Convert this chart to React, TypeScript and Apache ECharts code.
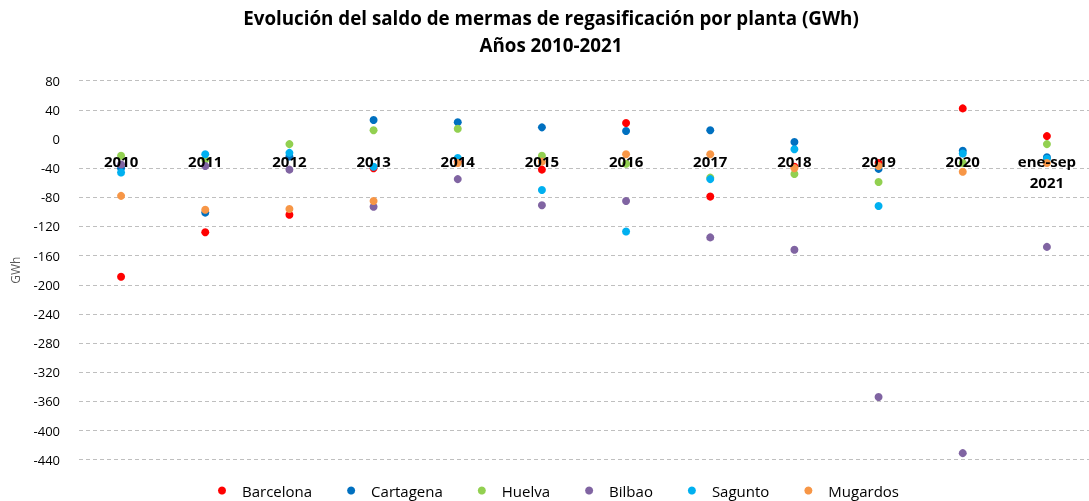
import React, { useEffect, useRef } from "react";
import * as echarts from "echarts";

const categories = ["2010", "2011", "2012", "2013", "2014", "2015", "2016", "2017", "2018", "2019", "2020", "ene-sep\n2021"];
const seriesNames = ["Barcelona", "Cartagena", "Huelva", "Bilbao", "Sagunto", "Mugardos"];
const barcelona = [-189, -128, -104, -40, -31, -42, 22, -79, -38, -33, 42, 4];
const cartagena = [-40, -101, -24, 26, 23, 16, 11, 12, -4, -41, -16, -25];
const huelva = [-23, -28, -7, 12, 14, -23, -34, -53, -48, -59, -33, -7];
const bilbao = [-35, -37, -42, -93, -55, -91, -85, -135, -152, -354, -431, -148];
const sagunto = [-46, -21, -19, -38, -26, -70, -127, -55, -14, -92, -20, -27];
const mugardos = [-78, -97, -96, -85, -33, -31, -21, -21, -40, -37, -45, -33];
const colors = ["#FF0000", "#0070C0", "#92D050", "#8064A2", "#00B0F0", "#F79646"];
const yTicks = { min: -440, max: 80, interval: 40 };

const FONT = "'Open Sans', 'Liberation Sans', sans-serif";

export default function App() {
  const ref = useRef<HTMLDivElement>(null);
  useEffect(() => {
    document.body.style.margin = "0";
    const chart = echarts.init(ref.current!, null, { renderer: "svg" });
    const allData = [barcelona, cartagena, huelva, bilbao, sagunto, mugardos];
    const tickCount = (yTicks.max - yTicks.min) / yTicks.interval + 1;
    const gridColors: string[] = [];
    for (let i = 0; i < tickCount; i++) {
      const v = yTicks.min + i * yTicks.interval;
      gridColors.push(v === 0 ? "rgba(0,0,0,0)" : "#BFBFBF");
    }
    const gridTop = 80.7;
    const gridBottom = 41.3;
    const gridHeight = 501 - gridTop - gridBottom;
    // place the category axis where the value axis crosses zero
    const zeroOffset = -((0 - yTicks.min) / (yTicks.max - yTicks.min)) * gridHeight;
    chart.setOption({
      animation: false,
      textStyle: { fontFamily: FONT },
      title: {
        text: "Evolución del saldo de mermas de regasificación por planta (GWh)\nAños 2010-2021",
        left: 551,
        textAlign: "center",
        top: 4.5,
        padding: 0,
        textStyle: { fontFamily: FONT, fontSize: 18.8, fontWeight: "bold", color: "#000", lineHeight: 27 },
      },
      legend: {
        left: 218,
        top: 483,
        padding: 0,
        itemWidth: 30,
        itemHeight: 8,
        itemGap: 35,
        icon: "circle",
        textStyle: { fontFamily: FONT, fontSize: 15, color: "#000" },
        data: seriesNames,
      },
      grid: { left: 79, right: -10.5, top: gridTop, bottom: gridBottom, containLabel: false },
      xAxis: {
        type: "category",
        data: categories,
        z: 5,
        offset: zeroOffset,
        axisLine: { show: false, onZero: false },
        axisTick: { show: false },
        splitLine: { show: false },
        axisLabel: {
          interval: 0,
          margin: 11,
          fontFamily: FONT,
          fontSize: 15,
          fontWeight: "bold",
          color: "#000",
          lineHeight: 21,
        },
      },
      yAxis: {
        type: "value",
        min: yTicks.min,
        max: yTicks.max,
        interval: yTicks.interval,
        name: "GWh",
        nameLocation: "middle",
        nameGap: 58,
        nameTextStyle: { fontFamily: FONT, fontSize: 12, color: "#595959" },
        axisLine: { show: false },
        axisTick: { show: false },
        axisLabel: { margin: 19, fontFamily: FONT, fontSize: 13, color: "#000" },
        splitLine: { show: true, lineStyle: { color: gridColors, type: [4, 3], width: 1 } },
      },
      series: seriesNames.map((name, i) => ({
        name,
        type: "scatter",
        symbol: "circle",
        symbolSize: 8,
        itemStyle: { color: colors[i], opacity: 1 },
        data: allData[i],
      })),
    });
    return () => chart.dispose();
  }, []);
  return <div ref={ref} style={{ position: "fixed", left: 0, top: 0, width: 1089, height: 501 }} />;
}
